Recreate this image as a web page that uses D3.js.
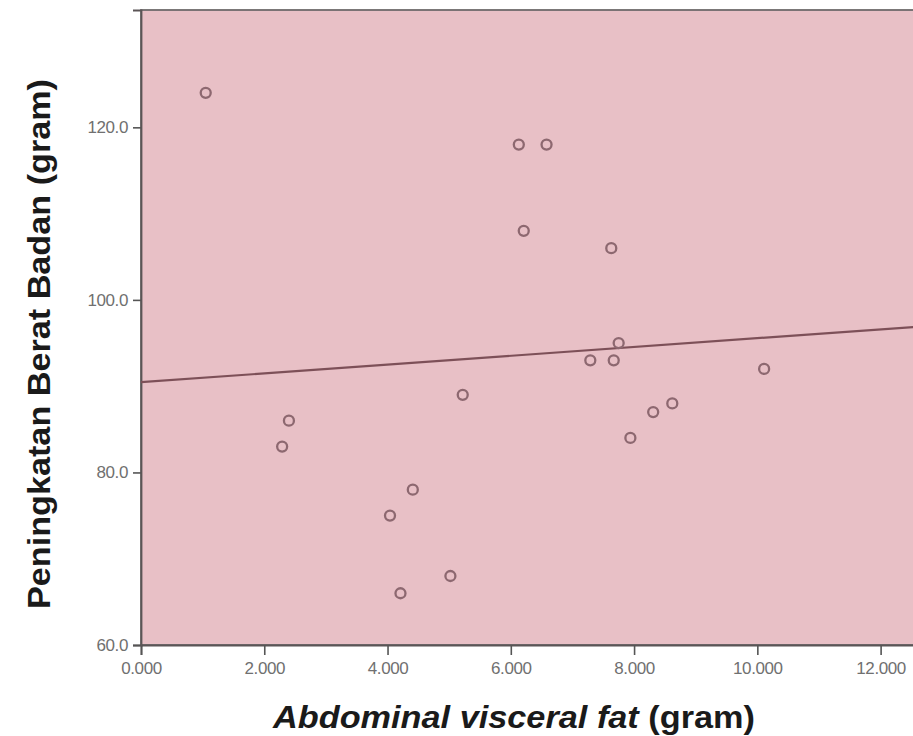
<!DOCTYPE html>
<html>
<head>
<meta charset="utf-8">
<script src="https://cdn.jsdelivr.net/npm/d3@7"></script>
<style>
  body { margin: 0; background: #fff; }
  svg { display: block; }
</style>
</head>
<body>
<div id="chart"></div>
<script>
// visceral fat (x) and weight gain (y)
const fatValues = [1.05, 6.13, 6.58, 6.21, 7.63, 7.75, 7.29, 7.67, 10.11, 8.62, 8.31, 7.94, 5.22, 2.40, 2.29, 4.41, 4.04, 5.02, 4.21];
const gainValues = [124, 118, 118, 108, 106, 95, 93, 93, 92, 88, 87, 84, 89, 86, 83, 78, 75, 68, 66];
const xTicks = [0, 2, 4, 6, 8, 10, 12];
const yTicks = [60, 80, 100, 120];
// fit line as drawn: intercept and slope
const fitLine = [90.46, 0.51];

const width = 913, height = 736;
const margin = { top: 10, right: -20, bottom: 91, left: 141 };

const svg = d3.select("#chart").append("svg")
  .attr("width", width)
  .attr("height", height)
  .attr("font-family", "'Liberation Sans', Arial, sans-serif");

const x = d3.scaleLinear()
  .domain([0, 12.85])
  .range([margin.left, width - margin.right]);
const y = d3.scaleLinear()
  .domain([60, 133.6])
  .range([height - margin.bottom, margin.top]);

svg.append("rect")
  .attr("x", x(0))
  .attr("y", y(133.6))
  .attr("width", x(12.85) - x(0))
  .attr("height", y(60) - y(133.6))
  .attr("fill", "#e8c0c6")
  .attr("stroke", "#6e6a6b")
  .attr("stroke-width", 1.8);

const xAxis = svg.append("g")
  .attr("transform", `translate(0,${y(60)})`)
  .call(d3.axisBottom(x).tickValues(xTicks).tickFormat(d3.format(".3f")).tickSize(10).tickPadding(7));
const yAxis = svg.append("g")
  .attr("transform", `translate(${x(0)},0)`)
  .call(d3.axisLeft(y).tickValues(yTicks).tickFormat(d3.format(".1f")).tickSize(8).tickPadding(5));

[xAxis, yAxis].forEach((g) => {
  g.select(".domain").attr("stroke", "#5b5556").attr("stroke-width", 1.8);
  g.selectAll(".tick line").attr("stroke", "#555").attr("stroke-width", 1.6);
  g.selectAll(".tick text")
    .attr("fill", "#707070")
    .attr("font-size", 17)
    .attr("letter-spacing", "-0.4px");
});

const data = fatValues.map((v, i) => ({ fat: v, gain: gainValues[i] }));

svg.append("line")
  .attr("x1", x(0))
  .attr("y1", y(fitLine[0]))
  .attr("x2", x(12.85))
  .attr("y2", y(fitLine[0] + fitLine[1] * 12.85))
  .attr("stroke", "#7d5058")
  .attr("stroke-width", 2.2);

svg.append("g")
  .selectAll("circle")
  .data(data)
  .join("circle")
  .attr("cx", (d) => x(d.fat))
  .attr("cy", (d) => y(d.gain))
  .attr("r", 5)
  .attr("fill", "none")
  .attr("stroke", "#8d6870")
  .attr("stroke-width", 2.3);

// axis titles
svg.append("text")
  .attr("transform", `translate(50,344) rotate(-90)`)
  .attr("text-anchor", "middle")
  .attr("font-size", 31)
  .attr("font-weight", "bold")
  .attr("fill", "#1a1a1a")
  .attr("textLength", 530)
  .attr("lengthAdjust", "spacingAndGlyphs")
  .text("Peningkatan Berat Badan (gram)");

const xTitle = svg.append("text")
  .attr("x", 514)
  .attr("y", 728)
  .attr("text-anchor", "middle")
  .attr("font-size", 31)
  .attr("font-weight", "bold")
  .attr("fill", "#1a1a1a")
  .attr("textLength", 482)
  .attr("lengthAdjust", "spacingAndGlyphs");
xTitle.append("tspan").attr("font-style", "italic").text("Abdominal visceral fat");
xTitle.append("tspan").text(" (gram)");
</script>
</body>
</html>
